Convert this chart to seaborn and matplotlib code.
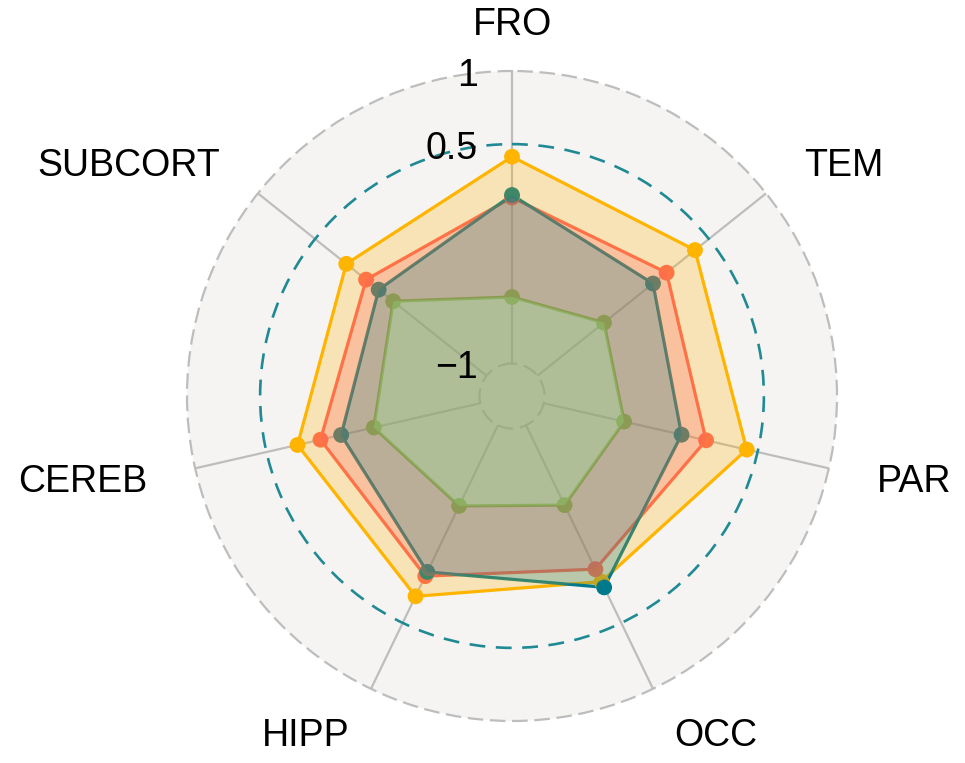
import numpy as np
import pandas as pd
import matplotlib
matplotlib.use("Agg")
import matplotlib.pyplot as plt
import seaborn as sns
from matplotlib.transforms import offset_copy
from matplotlib.patches import Circle

# ---- data ----
categories = ["FRO", "TEM", "PAR", "OCC", "HIPP", "CEREB", "SUBCORT"]
yellow_vals = [0.414, 0.378, 0.424, 0.187, 0.298, 0.282, 0.227]
red_vals = [0.135, 0.130, 0.139, 0.092, 0.145, 0.121, 0.054]
teal_vals = [0.152, 0.011, -0.033, 0.230, 0.113, -0.024, -0.056]
green_vals = [-0.545, -0.418, -0.436, -0.394, -0.388, -0.253, -0.183]
series_values = [yellow_vals, red_vals, teal_vals, green_vals]
line_colors = ["#FFB400", "#FF5F5C", "#00798C", "#8BC34A"]
fill_colors = ["#FFB400", "#FF5F5C", "#00798C", "#90EE90"]
r_ticks = [-1, 0.5, 1]
r_tick_labels = ["\u22121", "0.5", "1"]

sns.set_style("white")
plt.rcParams["font.family"] = ["Liberation Sans", "DejaVu Sans"]

fig = plt.figure(figsize=(9.65, 7.63), dpi=100)
ax = fig.add_axes([187 / 965, 42 / 763, 650 / 965, 650 / 763], projection="polar")
ax.set_theta_offset(np.pi / 2)
ax.set_theta_direction(-1)
ax.set_ylim(-1, 1)
ax.set_rorigin(-1 - 32.5 / 292.5 * 2)

bg = "#F5F4F2"
ax.patch.set_alpha(0)
disc = Circle((0.5, 0.5), 0.5, transform=ax.transAxes, facecolor=bg,
              edgecolor="none", zorder=-1)
fig.add_artist(disc)

n = len(categories)
angles = np.linspace(0, 2 * np.pi, n, endpoint=False)

# grid
ax.set_xticks(angles)
ax.set_xticklabels([])
ax.xaxis.grid(True, color="#BDBDBD", linewidth=1.6, linestyle="-")
ax.set_yticks([0.5])
ax.set_yticklabels([])
ax.yaxis.grid(True, color="#1F8A94", linewidth=1.9, linestyle=(0, (6, 4)))
ax.tick_params(length=0)
for key in ["polar", "inner"]:
    if key in ax.spines:
        ax.spines[key].set_color("#BDBDBD")
        ax.spines[key].set_linewidth(1.6)
        ax.spines[key].set_linestyle((0, (6, 4)))
for key in ["start", "end"]:
    if key in ax.spines:
        ax.spines[key].set_visible(False)

# series
closed_theta = np.append(angles, angles[0] + 2 * np.pi)
for vals, col in zip(series_values, line_colors):
    rr = np.append(vals, vals[0])
    df = pd.DataFrame({"theta": closed_theta, "r": rr})
    sns.lineplot(data=df, x="theta", y="r", ax=ax, color=col, linewidth=2.3,
                 sort=False, estimator=None, zorder=2)
    sns.scatterplot(x=angles, y=vals, ax=ax, color=col, s=130,
                    edgecolor="none", linewidth=0, zorder=2.5)
for vals, col in zip(series_values, fill_colors):
    ax.fill(angles, vals, color=col, alpha=0.25, linewidth=0, zorder=3,
            clip_on=False)

ax.set_xlabel("")
ax.set_ylabel("")

# radial tick labels
tr = offset_copy(ax.transData, fig=fig, x=-34, y=-5, units="dots")
for rv, lab in zip(r_ticks, r_tick_labels):
    ax.text(0, rv, lab, transform=tr, ha="right", va="center", fontsize=27,
            color="black", clip_on=False)

# category labels
label_r = -1 + (374 - 32.5) / 292.5 * 2
tl = offset_copy(ax.transData, fig=fig, x=0, y=-3, units="dots")
for ang, lab in zip(angles, categories):
    s = np.sin(ang)
    ha = "center" if abs(s) < 0.01 else ("left" if s > 0 else "right")
    ax.text(ang, label_r, lab, transform=tl, ha=ha, va="center", fontsize=27,
            color="black", clip_on=False)

fig.savefig("out.png", dpi=100, facecolor="white")
